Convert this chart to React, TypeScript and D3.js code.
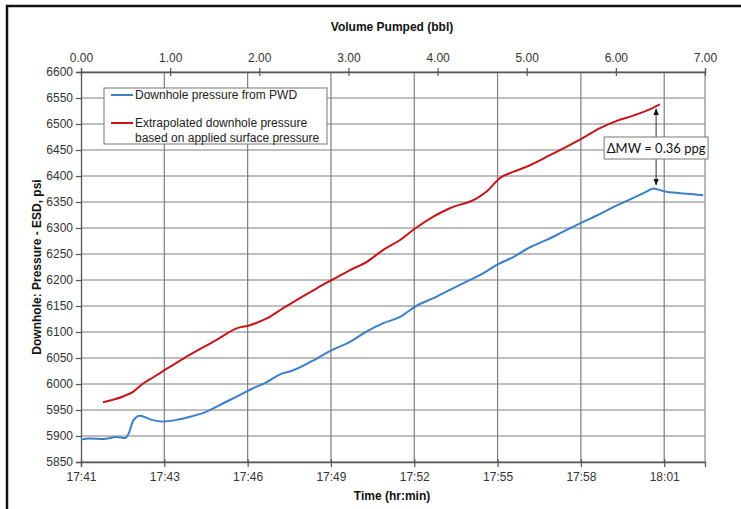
import React, { useEffect, useRef } from "react";
import * as d3 from "d3";

// minutes after 17:41
const pwdMinutes = [0, 0.3, 0.77, 1.23, 1.52, 1.65, 1.81, 2.04, 2.39, 2.79, 3.31, 3.77, 4.34, 4.92, 5.5, 6.07, 6.3, 6.99, 7.22, 8.15, 8.67, 9.3, 9.88, 10.45, 11.03, 11.55, 12.18, 12.75, 13.33, 13.91, 14.37, 14.94, 15.52, 16.1, 16.67, 17.25, 17.83, 18.4, 18.98, 19.55, 19.78, 20.19, 20.71, 21.17, 21.51];
const pwdPsi = [5893, 5895, 5894, 5898, 5896, 5905, 5930, 5939, 5932, 5928, 5931, 5937, 5947, 5963, 5979, 5995, 6000, 6021, 6024, 6049, 6065, 6081, 6101, 6117, 6129, 6149, 6165, 6181, 6197, 6213, 6229, 6244, 6263, 6277, 6293, 6309, 6324, 6340, 6355, 6370, 6376, 6370, 6367, 6365, 6363];

const extMinutes = [0.76, 1.45, 1.8, 2.15, 2.5, 2.9, 3.54, 4.69, 5.38, 5.84, 6.42, 6.99, 8.15, 8.67, 9.3, 9.88, 10.45, 11.03, 11.55, 12.18, 12.75, 13.68, 14.02, 14.48, 14.94, 15.41, 16.21, 17.31, 17.94, 18.52, 19.09, 19.61, 20.01];
const extPsi = [5965, 5976, 5985, 6001, 6013, 6027, 6049, 6085, 6107, 6113, 6126, 6146, 6184, 6200, 6219, 6235, 6258, 6277, 6299, 6322, 6338, 6357, 6370, 6396, 6408, 6418, 6440, 6472, 6492, 6506, 6516, 6527, 6538];

const timeTickMinutes = [0, 2.88, 5.76, 8.64, 11.52, 14.4, 17.28, 20.16];
const timeTickLabels = ["17:41", "17:43", "17:46", "17:49", "17:52", "17:55", "17:58", "18:01"];
const volumeTicks = [0, 1, 2, 3, 4, 5, 6, 7];
const psiTicks = d3.range(5850, 6601, 50);

const seriesNames = ["Downhole pressure from PWD", "Extrapolated downhole pressure", "based on applied surface pressure"];
const annotation = { minute: 19.88, top: 6529, bottom: 6383, label: "\u0394MW = 0.36 ppg" };

const BLUE = "#3b7fc7";
const RED = "#c8151b";
const FONT = "'Liberation Sans', Arial, sans-serif";

const App = () => {
  const ref = useRef(null);

  useEffect(() => {
    const svg = d3.select(ref.current);
    svg.selectAll("*").remove();
    const width = 741;
    const height = 509;
    const margin = { top: 72, right: 36, bottom: 47, left: 81 };

    const x = d3.scaleLinear().domain([0, 21.57]).range([margin.left, width - margin.right]);
    const xVol = d3.scaleLinear().domain([0, 7]).range([margin.left, width - margin.right]);
    const y = d3.scaleLinear().domain([5850, 6600]).range([height - margin.bottom, margin.top]);

    svg.append("rect").attr("width", width).attr("height", height).attr("fill", "#fff");

    // outer frame (top + left only visible)
    svg.append("path").attr("d", `M7,${height + 5}V6H${width + 5}`).attr("fill", "none").attr("stroke", "#111").attr("stroke-width", 2.5);

    // gridlines
    svg.append("g").selectAll("line").data(psiTicks).join("line")
      .attr("x1", x.range()[0]).attr("x2", x.range()[1])
      .attr("y1", (d) => y(d)).attr("y2", (d) => y(d))
      .attr("stroke", "#7e7e7e").attr("stroke-width", 1.2);
    svg.append("g").selectAll("line").data(timeTickMinutes.slice(1)).join("line")
      .attr("x1", (d) => x(d)).attr("x2", (d) => x(d))
      .attr("y1", y.range()[1]).attr("y2", y.range()[0])
      .attr("stroke", "#7e7e7e").attr("stroke-width", 1.2);
    svg.append("line").attr("x1", x.range()[1]).attr("x2", x.range()[1])
      .attr("y1", y.range()[1]).attr("y2", y.range()[0])
      .attr("stroke", "#8a8a8a").attr("stroke-width", 1.2);

    // axes
    const yAxis = svg.append("g").attr("transform", `translate(${margin.left},0)`)
      .call(d3.axisLeft(y).tickValues(psiTicks).tickSize(5).tickPadding(3).tickFormat(d3.format("d")));
    const xAxis = svg.append("g").attr("transform", `translate(0,${height - margin.bottom})`)
      .call(d3.axisBottom(x).tickValues(timeTickMinutes).tickSize(5).tickPadding(5)
        .tickFormat((d, i) => timeTickLabels[i]));
    const topAxis = svg.append("g").attr("transform", `translate(0,${margin.top})`)
      .call(d3.axisTop(xVol).tickValues(volumeTicks).tickSize(4).tickPadding(6).tickFormat(d3.format(".2f")));
    topAxis.selectAll(".tick line").attr("y2", 4).attr("y1", -4);

    [yAxis, xAxis, topAxis].forEach((g) => {
      g.select(".domain").attr("stroke", "#555").attr("stroke-width", 1.3);
      g.selectAll(".tick line").attr("stroke", "#555").attr("stroke-width", 1.2);
      g.selectAll("text").style("font-family", FONT).style("font-size", "12px").attr("fill", "#333");
    });
    xAxis.selectAll(".tick line").attr("y1", -3);

    // axis titles
    const title = (t, px, py, rot) => {
      svg.append("text").attr("transform", `translate(${px},${py}) rotate(${rot})`)
        .attr("text-anchor", "middle").attr("dominant-baseline", "middle")
        .style("font-family", FONT).style("font-size", "12px").style("font-weight", "bold")
        .attr("fill", "#111").text(t);
    };
    title("Volume Pumped (bbl)", 392, 28, 0);
    title("Time (hr:min)", 392, 497, 0);
    title("Downhole: Pressure - ESD, psi", 38, (y.range()[0] + y.range()[1]) / 2, -90);

    // lines
    const line = d3.line().x((d) => x(d[0])).y((d) => y(d[1])).curve(d3.curveMonotoneX);
    svg.append("path").datum(d3.zip(pwdMinutes, pwdPsi)).attr("d", line)
      .attr("fill", "none").attr("stroke", BLUE).attr("stroke-width", 2);
    svg.append("path").datum(d3.zip(extMinutes, extPsi)).attr("d", line)
      .attr("fill", "none").attr("stroke", RED).attr("stroke-width", 2);

    // annotation arrow + box
    const defs = svg.append("defs");
    defs.append("marker").attr("id", "ah").attr("viewBox", "0 0 10 10").attr("refX", 9).attr("refY", 5)
      .attr("markerWidth", 7).attr("markerHeight", 7).attr("orient", "auto-start-reverse")
      .append("path").attr("d", "M0,1L10,5L0,9Z").attr("fill", "#111");
    const ax = x(annotation.minute);
    svg.append("line").attr("x1", ax).attr("x2", ax)
      .attr("y1", y(annotation.top)).attr("y2", y(annotation.bottom))
      .attr("stroke", "#333").attr("stroke-width", 1)
      .attr("marker-start", "url(#ah)").attr("marker-end", "url(#ah)");
    const by = 148;
    svg.append("rect").attr("x", ax - 52).attr("y", by - 11).attr("width", 104).attr("height", 22)
      .attr("fill", "#fff").attr("stroke", "#777").attr("stroke-width", 1);
    svg.append("text").attr("x", ax).attr("y", by).attr("text-anchor", "middle").attr("dominant-baseline", "central")
      .style("font-family", "Lato, 'Open Sans', sans-serif").style("font-size", "13px").attr("fill", "#111")
      .text(annotation.label);

    // legend
    const lg = svg.append("g");
    lg.append("rect").attr("x", 104).attr("y", 88).attr("width", 223).attr("height", 56)
      .attr("fill", "#fff").attr("stroke", "#777").attr("stroke-width", 1);
    lg.append("line").attr("x1", 111).attr("x2", 133).attr("y1", 95).attr("y2", 95).attr("stroke", BLUE).attr("stroke-width", 2);
    lg.append("line").attr("x1", 111).attr("x2", 133).attr("y1", 123).attr("y2", 123).attr("stroke", RED).attr("stroke-width", 2);
    [[95, seriesNames[0]], [123, seriesNames[1]], [137.5, seriesNames[2]]].forEach(([ty, t]) => {
      lg.append("text").attr("x", 135).attr("y", ty).attr("dominant-baseline", "central")
        .style("font-family", FONT).style("font-size", "12px").attr("fill", "#222").text(t);
    });
  }, []);

  return (
    <div style={{ position: "absolute", left: 0, top: 0 }}>
      <svg ref={ref} width={741} height={509} style={{ display: "block" }} />
    </div>
  );
};

export default App;
